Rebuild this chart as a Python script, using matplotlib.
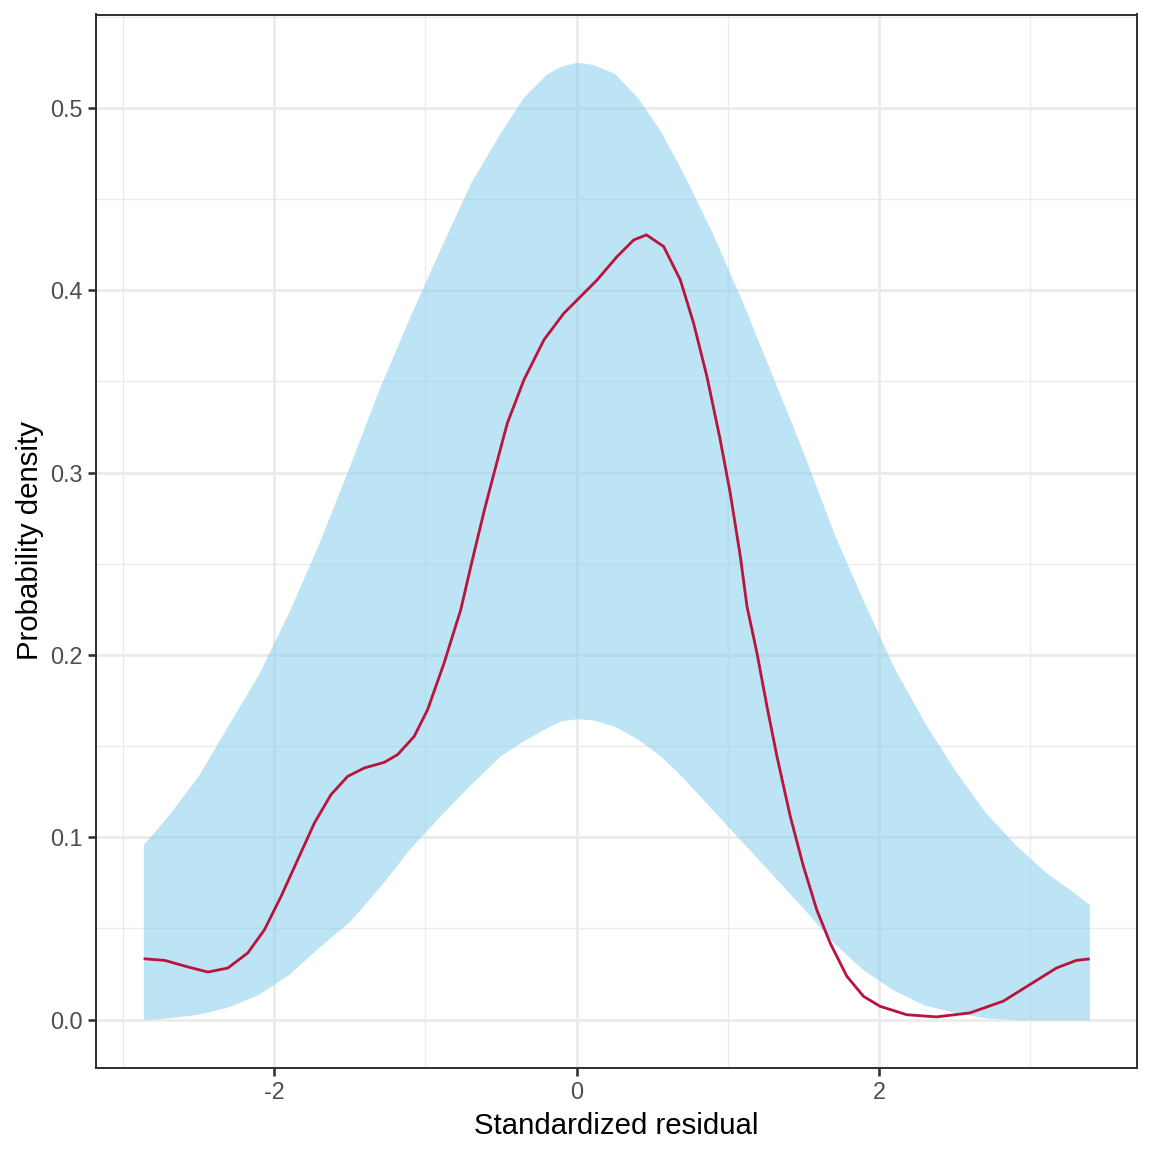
import matplotlib
matplotlib.use("Agg")
import matplotlib.pyplot as plt
from matplotlib.ticker import MultipleLocator, FormatStrFormatter

# band (envelope)
band_x = [-2.865, -2.7, -2.5, -2.3, -2.1, -1.9, -1.7, -1.5, -1.3, -1.1, -0.9, -0.7,
          -0.5, -0.35, -0.2, -0.1, 0.0, 0.1, 0.25, 0.4, 0.55, 0.7, 0.9, 1.1, 1.3,
          1.5, 1.7, 1.9, 2.1, 2.3, 2.5, 2.7, 2.9, 3.1, 3.3, 3.391]
band_hi = [0.096, 0.112, 0.134, 0.162, 0.190, 0.224, 0.262, 0.304, 0.347, 0.386,
           0.423, 0.459, 0.487, 0.506, 0.5185, 0.523, 0.525, 0.524, 0.519, 0.506,
           0.488, 0.465, 0.431, 0.393, 0.352, 0.311, 0.267, 0.229, 0.193, 0.163,
           0.137, 0.114, 0.096, 0.081, 0.069, 0.063]
band_lo = [0.0, 0.001, 0.003, 0.007, 0.014, 0.025, 0.040, 0.054, 0.073, 0.094,
           0.112, 0.129, 0.145, 0.153, 0.160, 0.164, 0.165, 0.1645, 0.161, 0.154,
           0.145, 0.133, 0.115, 0.097, 0.079, 0.061, 0.042, 0.027, 0.016, 0.008,
           0.004, 0.001, 0.0, 0.0, 0.0, 0.0]

# observed density curve
dens_x = [-2.863, -2.724, -2.570, -2.438, -2.306, -2.174, -2.064, -1.954, -1.844,
          -1.734, -1.624, -1.514, -1.404, -1.272, -1.184, -1.074, -0.985, -0.876,
          -0.766, -0.689, -0.612, -0.546, -0.458, -0.348, -0.216, -0.084, 0.004,
          0.136, 0.268, 0.378, 0.462, 0.576, 0.686, 0.774, 0.862, 0.950, 1.016,
          1.083, 1.127, 1.193, 1.259, 1.325, 1.413, 1.500, 1.588, 1.677, 1.787,
          1.897, 2.007, 2.183, 2.381, 2.601, 2.821, 2.997, 3.173, 3.305, 3.393]
dens_y = [0.0334, 0.0325, 0.0289, 0.0261, 0.0283, 0.0366, 0.0493, 0.0676, 0.0877,
          0.1078, 0.1234, 0.1334, 0.1380, 0.1411, 0.1453, 0.1553, 0.1700, 0.1956,
          0.2248, 0.2522, 0.2787, 0.2997, 0.3271, 0.3509, 0.3728, 0.3874, 0.3947,
          0.4057, 0.4185, 0.4276, 0.4304, 0.4240, 0.4057, 0.3819, 0.3527, 0.3180,
          0.2888, 0.2540, 0.2266, 0.2010, 0.1718, 0.1444, 0.1115, 0.0841, 0.0603,
          0.0420, 0.0238, 0.0128, 0.0073, 0.0027, 0.0015, 0.0037, 0.0101, 0.0192,
          0.0283, 0.0325, 0.0333]

plt.rcParams['font.family'] = ['Liberation Sans', 'DejaVu Sans']

fig = plt.figure(figsize=(8, 8), dpi=144)
ax = fig.add_axes([96 / 1152, 1 - 1067.5 / 1152, (1137 - 96) / 1152, (1067.5 - 14.5) / 1152])

ax.fill_between(band_x, band_lo, band_hi, color='#87CEEB', alpha=0.55, linewidth=0, zorder=2)
ax.plot(dens_x, dens_y, color='#B8143C', linewidth=1.4, zorder=3,
        solid_joinstyle='round', solid_capstyle='butt')

ax.set_xlim(-3.178, 3.706)
ax.set_ylim(-0.02625, 0.55125)
ax.set_xticks([-2, 0, 2])
ax.set_xticklabels(['-2', '0', '2'])
ax.xaxis.set_minor_locator(MultipleLocator(1))
ax.yaxis.set_major_locator(MultipleLocator(0.1))
ax.yaxis.set_minor_locator(MultipleLocator(0.05))
ax.yaxis.set_major_formatter(FormatStrFormatter('%.1f'))

ax.grid(True, which='major', color='#EBEBEB', linewidth=1.4, zorder=0)
ax.grid(True, which='minor', color='#EBEBEB', linewidth=0.7, zorder=0)
ax.set_axisbelow(True)

for s in ax.spines.values():
    s.set_color('#333333')
    s.set_linewidth(1.0)

ax.tick_params(which='major', length=3.8, width=1.3, color='#333333',
               labelsize=11.7, labelcolor='#4D4D4D', pad=3)
ax.tick_params(which='minor', length=0)

ax.set_xlabel('Standardized residual', fontsize=14.7, color='black', labelpad=4)
ax.set_ylabel('Probability density', fontsize=14.7, color='black', labelpad=3)

fig.savefig('out.png', dpi=144)
